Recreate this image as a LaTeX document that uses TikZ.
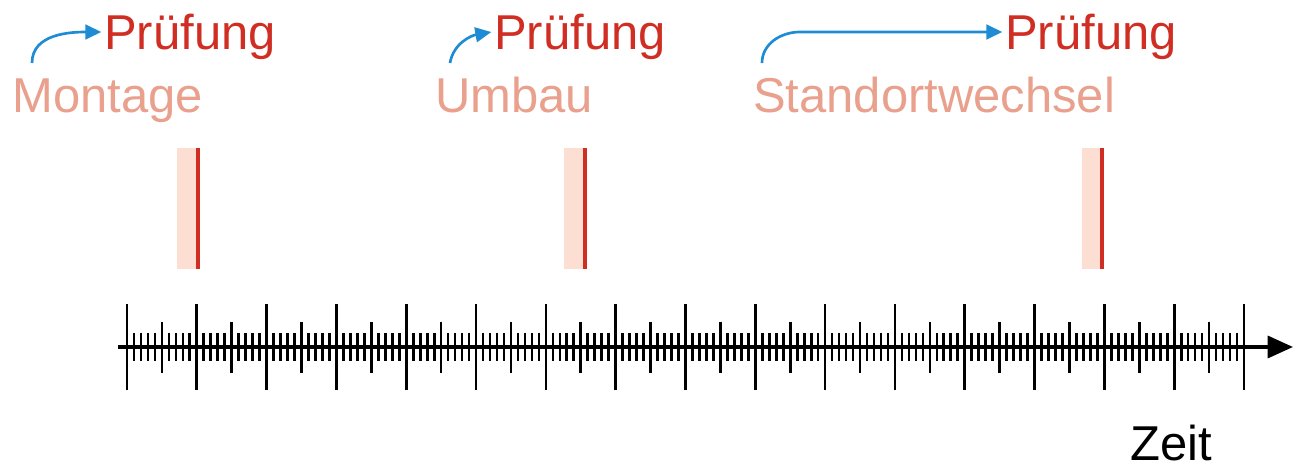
\documentclass[tikz,border=0pt]{standalone}
\usepackage{fontspec}
\setmainfont{Liberation Sans}
\usepackage{tikz}
\usetikzlibrary{arrows.meta}

\definecolor{pruefrot}{RGB}{208,45,35}
\definecolor{lachs}{RGB}{233,160,140}
\definecolor{rosa}{RGB}{252,222,210}
\definecolor{pfeilblau}{RGB}{30,140,212}

\begin{document}
\begin{tikzpicture}[x=0.75pt,y=0.75pt,yscale=-1,xscale=1,
    gross/.style={font=\fontsize{36.7}{40}\selectfont,inner sep=0pt,anchor=base west},
    pruef/.style={gross,text=pruefrot},
    anlass/.style={gross,text=lachs},
    blaupfeil/.style={draw=pfeilblau,line width=2pt,-{Triangle[length=12pt,width=11pt]}},
    marke/.style={draw=pruefrot,line width=3.2pt},
    achse/.style={draw=black,line width=2.6pt,-{Triangle[length=19pt,width=16.5pt]}},
    strich/.style={draw=black,line width=2pt}]
    \useasboundingbox (0,0) rectangle (1293,466);

    % Zeitpunkte der Pruefung
    \fill [rosa] (177,148) rectangle (196,269);
    \draw [marke] (198,148) -- (198,269);
    \fill [rosa] (564,148) rectangle (583,269);
    \draw [marke] (585,148) -- (585,269);
    \fill [rosa] (1082,148) rectangle (1100,269);
    \draw [marke] (1102,148) -- (1102,269);

    % Zeitachse
    \draw [achse] (118,347) -- (1293,347);
    \foreach \i in {0,...,160}
        \draw [strich] ({127+\i*6.98125},333) -- ++(0,28);
    \foreach \i in {0,...,32}
        \draw [strich] ({127+\i*34.90625},322) -- ++(0,51);
    \foreach \i in {0,...,16}
        \draw [strich] ({127+\i*69.8125},304) -- ++(0,86);

    % Texte
    \draw (12,113) node (montage) [anlass] {Montage};
    \draw (435,113) node (umbau) [anlass] {Umbau};
    \draw (753,113) node (standort) [anlass] {Standortwechsel};
    \draw (104,50) node (pruef1) [pruef] {Prüfung};
    \draw (494,50) node (pruef2) [pruef] {Prüfung};
    \draw (1005,50) node (pruef3) [pruef] {Prüfung};
    \draw (1130,461) node (zeit) [gross] {Zeit};

    % Pfeile
    \coordinate (start1) at (32,63);
    \coordinate (start2) at (450,63);
    \coordinate (start3) at (762,63);
    \draw [blaupfeil] (start1) to[out=270,in=180] ([xshift=-2pt,yshift=-13.5pt]pruef1.base west);
    \draw [blaupfeil] (start2) to[out=280,in=170] ([xshift=-2pt,yshift=-13.5pt]pruef2.base west);
    \draw [blaupfeil] (start3) to[out=270,in=180] (800,32) -- ([xshift=-2pt,yshift=-13.5pt]pruef3.base west);
\end{tikzpicture}
\end{document}
